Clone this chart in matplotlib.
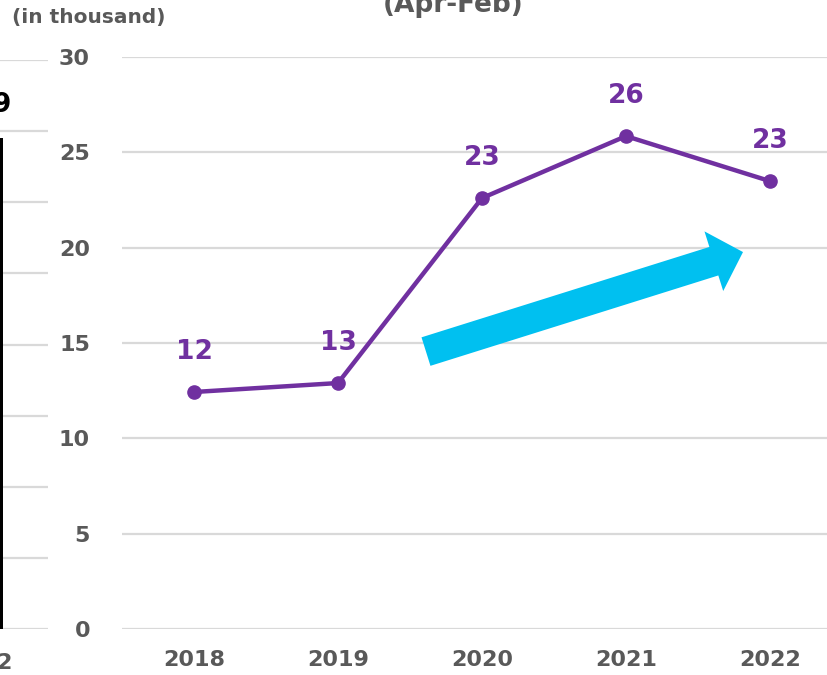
import matplotlib
matplotlib.use("Agg")
import matplotlib.pyplot as plt

plt.rcParams['font.family'] = ['DejaVu Sans']

years = ["2018", "2019", "2020", "2021", "2022"]
values = [12.43, 12.90, 22.60, 25.85, 23.49]
labels = ["12", "13", "23", "26", "23"]
yticks = [0, 5, 10, 15, 20, 25, 30]

# fragment of neighbouring chart on the left
left_value = 6.9

PURPLE = "#7030A0"
CYAN = "#00C0F0"
GRAY = "#595959"
GRID = "#D9D9D9"

W, H = 828, 675
fig = plt.figure(figsize=(W / 100, H / 100), dpi=100)

def px_axes(x0, y0_top, x1, y1_top):
    return [x0 / W, (H - y1_top) / H, (x1 - x0) / W, (y1_top - y0_top) / H]

# main chart
ax = fig.add_axes(px_axes(122, 57, 842, 629))
x = list(range(len(years)))
ax.plot(x, values, color=PURPLE, lw=3.2, marker="o", ms=9.5, zorder=3,
        solid_capstyle="round")
for xi, v, lab in zip(x, values, labels):
    ax.annotate(lab, (xi, v), xytext=(0, 29), textcoords="offset points",
                ha="center", va="center", fontsize=19, fontweight="bold",
                color=PURPLE)
ax.set_xlim(-0.5, 4.5)
ax.set_ylim(0, 30)
ax.set_yticks(yticks)
ax.set_xticks(x)
ax.set_xticklabels(years)
ax.tick_params(length=0, labelsize=16, labelcolor=GRAY)
ax.tick_params(axis="y", pad=23)
ax.tick_params(axis="x", pad=15)
for t in ax.get_xticklabels() + ax.get_yticklabels():
    t.set_fontweight("bold")
for s in ax.spines.values():
    s.set_visible(False)
ax.yaxis.grid(True, color=GRID, lw=1.6)
ax.set_axisbelow(True)

# trend arrow
ax.annotate("", xy=(3.8125, 19.77), xytext=(1.611, 14.55),
            arrowprops=dict(arrowstyle="simple,head_length=22,head_width=45,tail_width=21.5",
                            color=CYAN, shrinkA=0, shrinkB=0, mutation_scale=1, lw=0),
            zorder=2)

# left neighbouring chart fragment
axl = fig.add_axes(px_axes(-283, 60, 48, 629))
axl.set_xlim(-3, 0.82)
axl.set_ylim(0, 8)
axl.set_yticks(range(0, 9))
axl.yaxis.grid(True, color=GRID, lw=1.6)
axl.set_axisbelow(True)
axl.tick_params(length=0, labelleft=False, labelbottom=False)
for s in axl.spines.values():
    s.set_visible(False)
axl.bar([0], [left_value], width=0.6, color="black", align="center")

fig.text(11 / W, 1 - 105 / H, "9", ha="right", va="center", fontsize=19,
         fontweight="bold", color="black")
fig.text(12 / W, 1 - 663 / H, "2", ha="right", va="center", fontsize=16,
         fontweight="bold", color=GRAY)

fig.text(12 / W, 1 - 18 / H, "(in thousand)", ha="left", va="center",
         fontsize=14.5, fontweight="bold", color=GRAY)
fig.text(453 / W, 1 - 12 / H, "(Apr-Feb)", ha="center", va="baseline",
         fontsize=19, fontweight="bold", color=GRAY)

fig.savefig("out.png", dpi=100)
